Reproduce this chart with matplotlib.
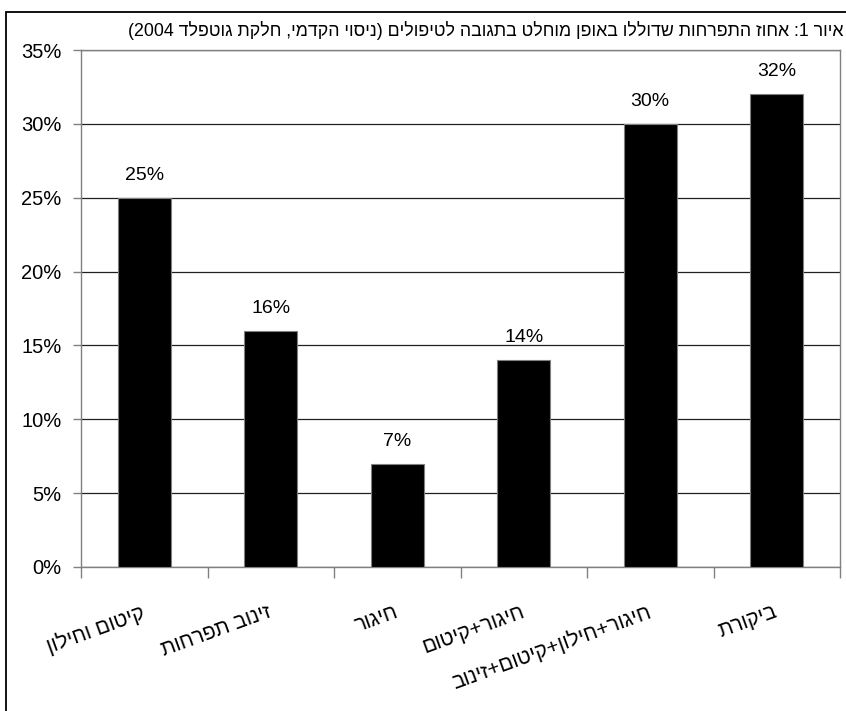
import re
import matplotlib
matplotlib.use('Agg')
import matplotlib.pyplot as plt
from matplotlib.patches import Rectangle
from matplotlib.ticker import FixedLocator, PercentFormatter

plt.rcParams['font.family'] = ['Liberation Sans', 'DejaVu Sans']

# --- data ---
title = 'איור 1: אחוז התפרחות שדוללו באופן מוחלט בתגובה לטיפולים (ניסוי הקדמי, חלקת גוטפלד 2004)'
categories = ['קיטום וחילון', 'זינוב תפרחות', 'חיגור', 'חיגור+קיטום',
              'חיגור+חילון+קיטום+זינוב', 'ביקורת']
values = [25, 16, 7, 14, 30, 32]


def visual(s):
    # crude bidi: matplotlib draws left to right, so flip hebrew runs
    r = s[::-1]
    r = r.translate(str.maketrans('()', ')('))
    r = re.sub(r'[0-9]+', lambda m: m.group(0)[::-1], r)
    return r


fig = plt.figure(figsize=(8.46, 7.11), dpi=100)
ax = fig.add_axes([81 / 846, 1 - 567 / 711, (840 - 81) / 846, (567 - 50) / 711])

x = list(range(len(categories)))
ax.bar(x, values, width=0.42, color='black', edgecolor='#808080', linewidth=0.8, zorder=3)

for xi, v in zip(x, values):
    ax.annotate(f'{v}%', (xi, v), xytext=(0, 10), textcoords='offset points',
                ha='center', va='bottom', fontsize=14)

ax.set_xlim(-0.5, len(categories) - 0.5)
ax.set_ylim(0, 35)
ax.set_yticks(range(0, 36, 5))
ax.yaxis.set_major_formatter(PercentFormatter(decimals=0))
ax.yaxis.grid(True, color='#202020', linewidth=0.9, zorder=1)
ax.tick_params(axis='y', length=6, width=1, color='#808080', labelsize=14.5, pad=8)

ax.set_xticks(x)
ax.set_xticklabels([visual(c) for c in categories], rotation=20, ha='right',
                   rotation_mode='anchor', va='center', fontsize=15)
ax.tick_params(axis='x', which='major', length=0, pad=32)
ax.xaxis.set_minor_locator(FixedLocator([i - 0.5 for i in range(len(categories) + 1)]))
ax.tick_params(axis='x', which='minor', length=8, width=1, color='#808080')

for sp in ax.spines.values():
    sp.set_color('#808080')
    sp.set_linewidth(1.0)

fig.text(843 / 846, 1 - 30 / 711, visual(title), ha='right', va='center', fontsize=12.8)

# outer chart frame
fig.patches.append(Rectangle((6 / 846, -0.05), 1.0, 1 - 12 / 711 + 0.05,
                             transform=fig.transFigure, fill=False,
                             edgecolor='black', linewidth=1.3))

fig.savefig('out.png', dpi=100)
